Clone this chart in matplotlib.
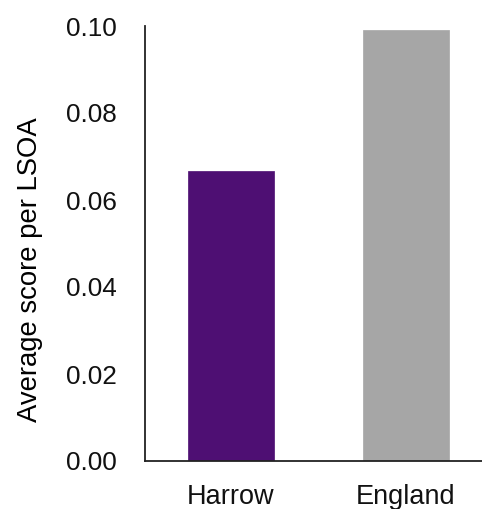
import matplotlib
matplotlib.use("Agg")
import matplotlib.pyplot as plt

areas = ["Harrow", "England"]
scores = [0.0667, 0.0991]
bar_colors = ["#4E0F73", "#A6A6A6"]
y_ticks = [0.00, 0.02, 0.04, 0.06, 0.08, 0.10]

plt.rcParams["font.family"] = ["Liberation Sans", "DejaVu Sans"]

fig = plt.figure(figsize=(4.82, 5.09), dpi=100)
ax = fig.add_axes([145 / 482, 1 - 461 / 509, 1 - 145 / 482, (461 - 26) / 509])

ax.bar(range(len(areas)), scores, width=0.49, color=bar_colors, edgecolor=bar_colors, linewidth=0.5)

ax.set_xlim(-0.491, 1.434)
ax.set_ylim(0, 0.10)
ax.set_yticks(y_ticks)
ax.set_yticklabels([f"{t:.2f}" for t in y_ticks])
ax.set_xticks(range(len(areas)))
ax.set_xticklabels(areas)

ax.tick_params(axis="y", length=0, pad=20, labelsize=18.8, labelcolor="#111111")
ax.tick_params(axis="x", length=0, pad=16.5, labelsize=19.5, labelcolor="#111111")

for side in ["top", "right"]:
    ax.spines[side].set_visible(False)
for side in ["left", "bottom"]:
    ax.spines[side].set_color("#222222")
    ax.spines[side].set_linewidth(1.3)

ax.set_ylabel("Average score per LSOA", fontsize=19.8, color="#000000")
ax.yaxis.set_label_coords(-0.303, 0.439)

fig.savefig("out.png", dpi=100)
